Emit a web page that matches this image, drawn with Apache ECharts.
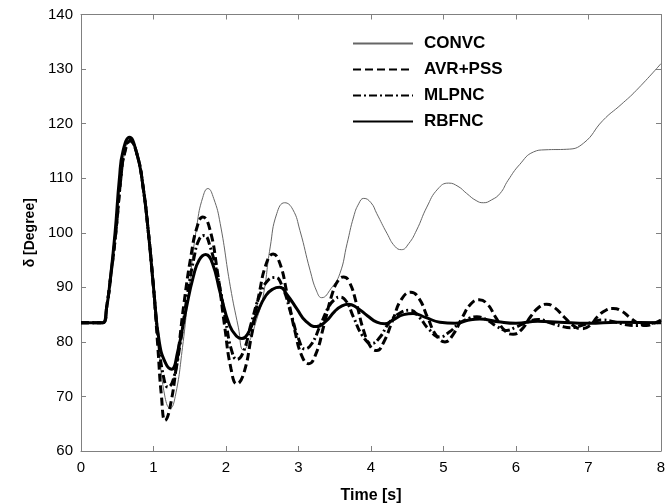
<!DOCTYPE html>
<html>
<head>
<meta charset="utf-8">
<script src="https://cdn.jsdelivr.net/npm/echarts@6/dist/echarts.min.js"></script>
<style>html,body{margin:0;padding:0;background:#fff}#c{width:666px;height:504px}</style>
</head>
<body>
<div id="c"></div>
<script>
var xTicks = [0,1,2,3,4,5,6,7,8];
var yTicks = [60,70,80,90,100,110,120,130,140];
var seriesNames = ['CONVC','AVR+PSS','MLPNC','RBFNC'];

var convcT = [0,0.3,0.36,0.41,0.48,0.55,0.6,0.67,0.77,0.86,0.93,1.0,1.08,1.16,1.23,1.3,1.4,1.5,1.6,1.68,1.75,1.83,1.92,2.06,2.17,2.24,2.32,2.42,2.51,2.61,2.7,2.81,2.92,3.02,3.16,3.25,3.32,3.45,3.57,3.67,3.76,3.83,3.9,4.0,4.08,4.22,4.33,4.42,4.52,4.63,4.77,4.92,5.07,5.2,5.32,5.45,5.55,5.66,5.78,5.89,6.05,6.24,6.4,6.7,6.93,7.2,7.45,7.66,8.0];
var convcV = [83.5,83.5,87,92,100,110,114.5,117,114.5,108,100,90,78,69.8,67.8,70,79,91,101.5,106.5,108.1,106.3,101.7,90.1,82.7,78.5,80,84,88.2,97.4,103.5,105.5,104.3,100.4,93.1,89.3,88.1,89.8,92.5,98,102.9,105.3,106.3,105.5,103.5,99.9,97.5,96.9,98,100.5,104.7,108,109.1,108.5,107.2,105.9,105.5,106,107.2,109.6,112.5,114.8,115.2,115.3,116.4,120.6,123.5,126.1,131];

var avrT = [0,0.3,0.36,0.41,0.48,0.55,0.6,0.68,0.78,0.86,0.93,1.0,1.06,1.11,1.16,1.22,1.32,1.42,1.52,1.6,1.68,1.77,1.88,1.98,2.07,2.15,2.24,2.35,2.46,2.56,2.65,2.74,2.84,2.95,3.05,3.14,3.24,3.35,3.47,3.55,3.62,3.7,3.8,3.9,4.0,4.08,4.17,4.3,4.42,4.55,4.66,4.78,4.9,5.02,5.13,5.26,5.38,5.49,5.6,5.72,5.85,5.96,6.08,6.2,6.32,6.42,6.53,6.66,6.8,6.91,7.02,7.13,7.24,7.34,7.45,7.57,7.7,7.8,7.9,8.0];
var avrV = [83.5,83.5,87,92,100,110,114.5,116.8,114,108,100,90,79,70,65.6,67.5,76,87,96,101,102.9,101,93,83,75,72.3,74,81,89,94.5,96.1,94.5,89,82,77.3,76,77.8,83,89,91.3,91.9,91,87,82,79,78.4,79.8,84,87.8,89.1,88,84.5,81.2,80,81.3,84.5,87,87.7,87,84.5,82,81.4,82.3,84.6,86.4,86.9,86.3,84.6,82.9,82.4,83,84.7,85.8,86.1,85.7,84.5,83.3,83,83.4,84];

var mlpT = [0,0.3,0.36,0.41,0.48,0.55,0.6,0.67,0.77,0.86,0.93,1.0,1.07,1.14,1.2,1.27,1.36,1.46,1.56,1.63,1.7,1.78,1.9,2.0,2.08,2.15,2.24,2.35,2.47,2.58,2.68,2.78,2.9,3.0,3.09,3.18,3.3,3.42,3.5,3.57,3.66,3.76,3.88,4.01,4.12,4.25,4.4,4.54,4.66,4.8,4.95,5.08,5.22,5.35,5.46,5.6,5.74,5.87,6.0,6.15,6.31,6.47,6.62,6.75,6.9,7.05,7.2,7.35,7.5,7.65,7.8,8.0];
var mlpV = [83.5,83.5,87,92,100,110,114.7,117,114.5,108,100,90,80,73.5,71.7,73,79,88,95.5,98.8,99.5,97.5,91,83.5,78.3,76.8,78.2,83.5,88.7,91.3,91.8,90,85,80.6,78.7,79.6,83,86.5,87.8,88.2,87.4,84.5,81.2,79.7,80.8,83.5,85.3,85.8,84.6,82.3,80.9,81.8,83.4,84.3,84.6,84,82.8,82.1,82.7,83.6,84.1,83.5,82.9,82.6,83,83.6,84,83.7,83.2,83,83.3,83.6];

var rbfT = [0,0.3,0.35,0.4,0.47,0.53,0.58,0.67,0.76,0.84,0.93,1.0,1.08,1.17,1.25,1.33,1.45,1.55,1.63,1.72,1.81,1.92,2.05,2.15,2.22,2.3,2.42,2.55,2.65,2.74,2.85,2.98,3.1,3.25,3.38,3.5,3.6,3.69,3.8,3.95,4.08,4.19,4.3,4.45,4.58,4.75,4.95,5.16,5.35,5.5,5.75,6.0,6.3,6.6,7.0,7.4,8.0];
var rbfV = [83.5,83.5,86,91,100,110,115,117.5,115,110,100,90,80,76,75,78,86,92,95,96,94.5,89,83,81,80.6,81.5,85,88.5,89.7,90,88.5,86,83.8,82.8,83.8,85.6,86.6,86.9,86.3,84.8,83.6,83.3,84,85,85.2,84.5,83.6,83.4,84,84.2,83.7,83.4,83.8,83.6,83.4,83.6,83.5];

function pairs(t, v) { return t.map(function (x, i) { return [x, v[i]]; }); }

var axisCol = '#808080';
var font = 'Liberation Sans, Arial, sans-serif';
var chart = echarts.init(document.getElementById('c'));
var lineCommon = { type: 'line', showSymbol: false, symbol: 'none', smooth: 0.5, animation: false };

chart.setOption({
  backgroundColor: '#fff',
  animation: false,
  grid: { left: 81, right: 5, top: 14.5, bottom: 53, containLabel: false, outerBoundsMode: 'none' },
  legend: {
    orient: 'vertical', left: 347, top: 30, itemWidth: 60, itemHeight: 14, itemGap: 9,
    data: seriesNames,
    itemStyle: { opacity: 0 },
    textStyle: { fontFamily: font, fontSize: 17, fontWeight: 'bold', color: '#000', padding: [0, 0, 0, 6] }
  },
  xAxis: [{
    type: 'value', min: 0, max: 8, interval: 1, position: 'bottom',
    name: 'Time [s]', nameLocation: 'middle', nameGap: 37,
    nameTextStyle: { fontFamily: font, fontSize: 16, fontWeight: 'bold', color: '#000' },
    axisLine: { show: true, onZero: false, lineStyle: { color: axisCol, width: 1 } },
    axisTick: { show: true, inside: true, length: 5, lineStyle: { color: axisCol } },
    axisLabel: { fontFamily: font, fontSize: 15, color: '#000', margin: 9,
      formatter: function (v) { return xTicks.indexOf(v) >= 0 ? String(v) : ''; } },
    splitLine: { show: false }
  }, {
    type: 'value', min: 0, max: 8, interval: 1, position: 'top',
    axisLine: { show: true, onZero: false, lineStyle: { color: axisCol, width: 1 } },
    axisTick: { show: true, inside: true, length: 5, lineStyle: { color: axisCol } },
    axisLabel: { show: false }, splitLine: { show: false }
  }],
  yAxis: [{
    type: 'value', min: 60, max: 140, interval: 10, position: 'left',
    name: 'δ [Degree]', nameLocation: 'middle', nameGap: 35, nameRotate: 90,
    nameTextStyle: { fontFamily: font, fontSize: 14, fontWeight: 'bold', color: '#000' },
    axisLine: { show: true, onZero: false, lineStyle: { color: axisCol, width: 1 } },
    axisTick: { show: true, inside: true, length: 5, lineStyle: { color: axisCol } },
    axisLabel: { fontFamily: font, fontSize: 15, color: '#000', margin: 8,
      formatter: function (v) { return yTicks.indexOf(v) >= 0 ? String(v) : ''; } },
    splitLine: { show: false }
  }, {
    type: 'value', min: 60, max: 140, interval: 10, position: 'right',
    axisLine: { show: true, onZero: false, lineStyle: { color: axisCol, width: 1 } },
    axisTick: { show: true, inside: true, length: 5, lineStyle: { color: axisCol } },
    axisLabel: { show: false }, splitLine: { show: false }
  }],
  series: [
    Object.assign({}, lineCommon, { name: seriesNames[0], data: pairs(convcT, convcV), z: 2,
      lineStyle: { color: '#666', width: 1, type: 'solid' }, itemStyle: { color: '#666' } }),
    Object.assign({}, lineCommon, { name: seriesNames[1], data: pairs(avrT, avrV), z: 3,
      lineStyle: { color: '#000', width: 3, type: [8, 4] }, itemStyle: { color: '#000' } }),
    Object.assign({}, lineCommon, { name: seriesNames[2], data: pairs(mlpT, mlpV), z: 4,
      lineStyle: { color: '#000', width: 3, type: [8, 3, 2, 3] }, itemStyle: { color: '#000' } }),
    Object.assign({}, lineCommon, { name: seriesNames[3], data: pairs(rbfT, rbfV), z: 5,
      lineStyle: { color: '#000', width: 3, type: 'solid' }, itemStyle: { color: '#000' } })
  ]
});
</script>
</body>
</html>
